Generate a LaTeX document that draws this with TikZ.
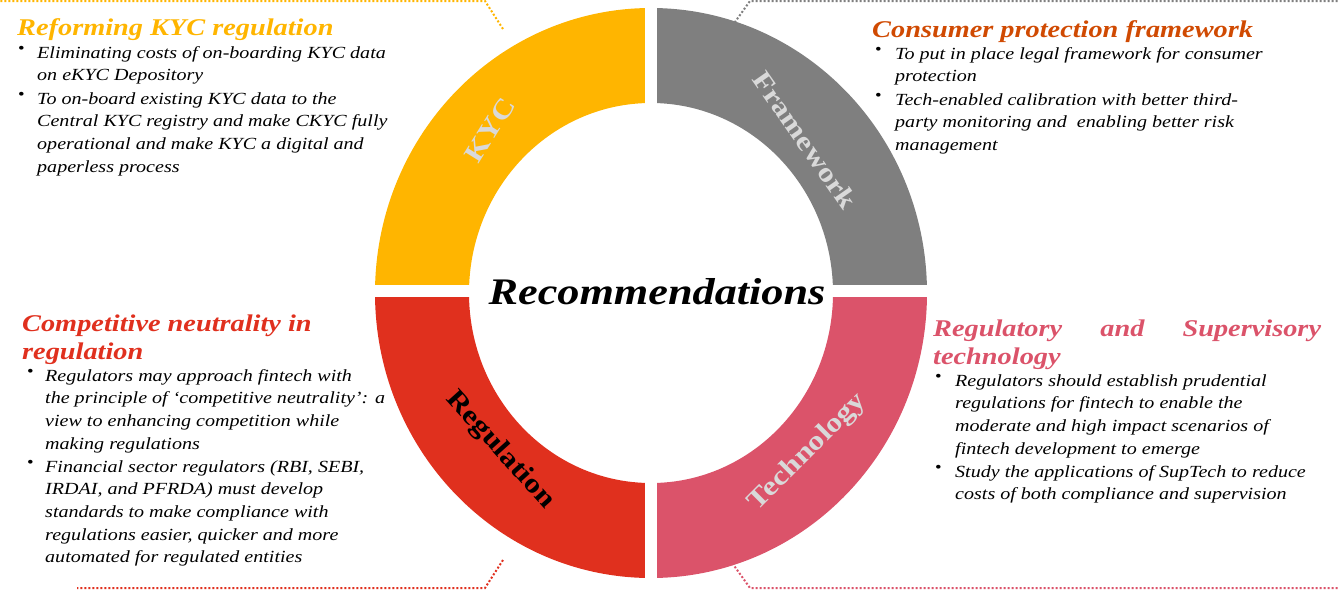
\documentclass[tikz,border=0pt]{standalone}
\usepackage{fontspec}
\setmainfont{Liberation Serif}[FakeStretch=1.18]
\definecolor{kyc}{HTML}{FFB500}
\definecolor{frame}{HTML}{7F7F7F}
\definecolor{regu}{HTML}{E0301E}
\definecolor{tech}{HTML}{DB536A}
\definecolor{cons}{HTML}{D04A02}
\definecolor{lab}{HTML}{D9D9D9}
\begin{document}
\begin{tikzpicture}[x=1pt, y=-1pt,
  title/.style={anchor=base west, inner sep=0pt, font=\fontsize{24}{28}\selectfont\bfseries\itshape},
  item/.style={anchor=north west, inner sep=0pt, align=left, font=\fontsize{17}{22.7}\selectfont\itshape},
  dot/.style={anchor=north west, inner sep=0pt, font=\fontsize{16}{22.7}\selectfont},
  seg/.style={font=\fontsize{27}{30}\selectfont\bfseries},
  lead/.style={dotted, line width=2pt}]

  \useasboundingbox (0,0) rectangle (1339,595);

  % Ring
  \begin{scope}[shift={(651,293)}, x=1pt, y=1pt]
    \fill[kyc] (-276,0) arc[start angle=180, end angle=90, x radius=276, y radius=285]
      -- (0,190) arc[start angle=90, end angle=180, x radius=182, y radius=190] -- cycle;
    \fill[frame] (0,285) arc[start angle=90, end angle=0, x radius=276, y radius=285]
      -- (182,0) arc[start angle=0, end angle=90, x radius=182, y radius=190] -- cycle;
    \fill[regu] (-276,0) arc[start angle=180, end angle=270, x radius=276, y radius=285]
      -- (0,-190) arc[start angle=270, end angle=180, x radius=182, y radius=190] -- cycle;
    \fill[tech] (276,0) arc[start angle=0, end angle=-90, x radius=276, y radius=285]
      -- (0,-190) arc[start angle=-90, end angle=0, x radius=182, y radius=190] -- cycle;
    \draw[white, line width=12pt] (0,295) -- (0,-295);
    \draw[white, line width=12pt] (-290,2) -- (290,2);
  \end{scope}

  \node[seg, lab, rotate=58] (S1) at (490,130) {KYC};
  \node[seg, lab, rotate=-55] (S2) at (805,140) {Framework};
  \node[seg, black, rotate=-48] (S3) at (500,450) {Regulation};
  \node[seg, lab, rotate=45] (S4) at (808,452) {Technology};
  \node[font=\fontsize{37.5}{40}\selectfont\bfseries\itshape] (R) at (657,292) {Recommendations};

  % Leaders
  \coordinate (L1a) at (503,29); \coordinate (L1b) at (485,1);
  \coordinate (L2a) at (730,29); \coordinate (L2b) at (750,1);
  \coordinate (L3a) at (503,560); \coordinate (L3b) at (485,588);
  \coordinate (L4a) at (730,560); \coordinate (L4b) at (750,588);
  \draw[lead, kyc] (L1a) -- (L1b) -- (0,1);
  \draw[lead, frame] (L2a) -- (L2b) -- (1339,1);
  \draw[lead, regu] (L3a) -- (L3b) -- (77,588);
  \draw[lead, tech] (L4a) -- (L4b) -- (1339,588);

  % KYC
  \node[title, kyc] (T1) at (17,35) {Reforming KYC regulation};
  \node[dot] (D1a) at (18,46) {•};
  \node[item] (I1a) at (37,46) {Eliminating costs of on-boarding KYC data\\on eKYC Depository};
  \node[dot] (D1b) at (18,92) {•};
  \node[item] (I1b) at (37,92) {To on-board existing KYC data to the\\Central KYC registry and make CKYC fully\\operational and make KYC a digital and\\paperless process};

  % Framework
  \node[title, cons] (T2) at (872,37) {Consumer protection framework};
  \node[dot] (D2a) at (875,47) {•};
  \node[item] (I2a) at (895,47) {To put in place legal framework for consumer\\protection};
  \node[dot] (D2b) at (875,93) {•};
  \node[item] (I2b) at (895,93) {Tech-enabled calibration with better third-\\party monitoring and \ enabling better risk\\management};

  % Regulation
  \node[title, regu] (T3) at (22,331) {Competitive neutrality in};
  \node[title, regu] (T3b) at (22,359) {regulation};
  \node[dot] (D3a) at (27,369) {•};
  \node[item] (I3a) at (45,369) {Regulators may approach fintech with\\the principle of ‘competitive neutrality’: a\\view to enhancing competition while\\making regulations};
  \node[dot] (D3b) at (27,460) {•};
  \node[item] (I3b) at (45,460) {Financial sector regulators (RBI, SEBI,\\IRDAI, and PFRDA) must develop\\standards to make compliance with\\regulations easier, quicker and more\\automated for regulated entities};

  % Technology
  \node[title, tech] (T4) at (933,336) {Regulatory \hspace{24pt} and \hspace{24pt} Supervisory};
  \node[title, tech] (T4b) at (933,364) {technology};
  \node[dot] (D4a) at (935,374) {•};
  \node[item] (I4a) at (955,374) {Regulators should establish prudential\\regulations for fintech to enable the\\moderate and high impact scenarios of\\fintech development to emerge};
  \node[dot] (D4b) at (935,465) {•};
  \node[item] (I4b) at (955,465) {Study the applications of SupTech to reduce\\costs of both compliance and supervision};
\end{tikzpicture}
\end{document}
